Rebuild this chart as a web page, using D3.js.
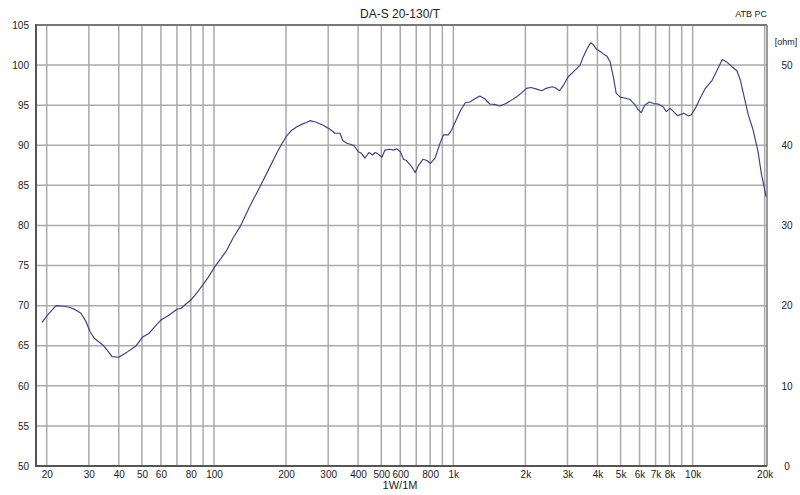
<!DOCTYPE html>
<html><head><meta charset="utf-8">
<script src="https://cdn.jsdelivr.net/npm/d3@7"></script>
<style>body{margin:0;background:#fff}svg{display:block}text{font-family:"Liberation Sans",Arial,sans-serif;fill:#222}</style>
</head><body>
<script>
const title = "DA-S 20-130/T";
const freqs = [19.1,20.4,21.9,23.2,24.9,26.3,27.8,29.2,30.3,31.6,34.3,36.1,37.5,40,43.3,47.2,50.4,53.6,56.7,60,65,70,72.9,76.3,80,84.8,89.8,94.4,101,107,113,120,128.6,141,155.6,168.6,182.8,190.5,200,210,222,236,242,252,266,286,305,320,336,345,359,383,401,413,427,444,460,471,485,503,518,543,561,581,601,619,637,671,693,716,747,776,801,839,880,909,953,983,1030,1070,1122,1173,1231,1290,1353,1420,1488,1560,1660,1743,1840,1923,2020,2112,2230,2343,2441,2590,2655,2780,2899,3020,3135,3260,3388,3470,3617,3750,3857,3970,4117,4230,4389,4520,4665,4790,4980,5199,5480,5760,5899,6090,6312,6590,6868,7170,7521,7760,8059,8378,8660,9170,9620,9868,10260,10750,11300,12060,12660,13300,13870,14600,15300,15800,16280,17080,17900,18760,19360,20280];
const spl = [67.9,69.0,70.0,69.95,69.8,69.5,69.05,68.0,66.8,65.94,65.1,64.3,63.64,63.56,64.2,64.97,66.1,66.56,67.4,68.2,68.84,69.55,69.67,70.2,70.7,71.6,72.6,73.5,74.9,75.9,76.9,78.4,79.85,82.35,84.84,86.9,89.0,90.0,91.07,91.8,92.3,92.7,92.8,93.07,92.9,92.5,92.0,91.5,91.5,90.6,90.25,90.0,89.2,89.0,88.4,89.1,88.8,89.1,88.9,88.5,89.4,89.5,89.4,89.55,89.2,88.25,88.1,87.3,86.6,87.5,88.25,88.1,87.75,88.4,90.25,91.3,91.3,91.9,93.2,94.3,95.3,95.4,95.8,96.15,95.8,95.15,95.1,94.9,95.2,95.6,96.06,96.5,97.1,97.2,97.0,96.8,97.1,97.3,97.2,96.8,97.6,98.55,99.0,99.5,100.0,100.85,102.0,102.8,102.5,101.97,101.7,101.4,101.1,100.4,98.5,96.5,96.0,95.9,95.7,95.0,94.5,94.07,95.0,95.4,95.2,95.15,94.8,94.2,94.6,94.1,93.7,94.0,93.65,93.8,94.6,95.86,97.1,98.1,99.4,100.7,100.4,99.8,99.3,98.2,96.5,93.8,91.9,89.2,86.5,83.6];
const gridFreqs = [20,30,40,50,60,70,80,90,100,200,300,400,500,600,700,800,900,1000,2000,3000,4000,5000,6000,7000,8000,9000,10000,20000];
const xTickLabels = [[20,"20"],[30,"30"],[40,"40"],[50,"50"],[60,"60"],[80,"80"],[100,"100"],[200,"200"],[300,"300"],[400,"400"],[500,"500"],[600,"600"],[800,"800"],[1000,"1k"],[2000,"2k"],[3000,"3k"],[4000,"4k"],[5000,"5k"],[6000,"6k"],[7000,"7k"],[8000,"8k"],[10000,"10k"],[20000,"20k"]];
const dbTicks = [50,55,60,65,70,75,80,85,90,95,100,105];
const ohmTicks = [0,10,20,30,40,50];

const W=800,H=495, L=36, R=767, T=25, B=466;
const svg = d3.select("body").append("svg").attr("width",W).attr("height",H);
const x = d3.scaleLog().domain([18.04,20450]).range([L,R]);
const y = d3.scaleLinear().domain([50,105]).range([B,T]);
const yo = d3.scaleLinear().domain([0,55]).range([B,T]);

const g = svg.append("g");
g.selectAll(".vg").data(gridFreqs).join("line")
 .attr("x1",d=>x(d)).attr("x2",d=>x(d)).attr("y1",T).attr("y2",B)
 .attr("stroke","#aaaaaa").attr("stroke-width",1.5);
g.selectAll(".hg").data(dbTicks.filter(d=>d>50&&d<105)).join("line")
 .attr("x1",L).attr("x2",R).attr("y1",d=>y(d)).attr("y2",d=>y(d))
 .attr("stroke","#aaaaaa").attr("stroke-width",1.5);
g.append("line").attr("x1",L).attr("x2",R).attr("y1",T).attr("y2",T).attr("stroke","#777").attr("stroke-width",2);
g.append("line").attr("x1",R).attr("x2",R).attr("y1",T).attr("y2",B).attr("stroke","#777").attr("stroke-width",1.5);
g.append("line").attr("x1",L).attr("x2",L).attr("y1",T-1).attr("y2",B+1).attr("stroke","#555").attr("stroke-width",2);
g.append("line").attr("x1",L).attr("x2",R).attr("y1",B).attr("y2",B).attr("stroke","#555").attr("stroke-width",2);

const yAxis = d3.axisLeft(y).tickValues(dbTicks).tickSize(0).tickPadding(0);
const ya = svg.append("g").attr("transform",`translate(${L-7},0)`).call(yAxis);
ya.select(".domain").remove();
ya.selectAll("text").attr("font-size",10).attr("fill","#222").attr("font-family","Liberation Sans, Arial, sans-serif");

const oAxis = d3.axisRight(yo).tickValues(ohmTicks).tickSize(0).tickPadding(0);
const oa = svg.append("g").attr("transform",`translate(${R+14},0)`).call(oAxis);
oa.select(".domain").remove();
oa.selectAll("text").attr("font-size",10).attr("fill","#222").attr("font-family","Liberation Sans, Arial, sans-serif").attr("text-anchor","middle").attr("dx",6);

const xAxis = d3.axisBottom(x).tickValues(xTickLabels.map(d=>d[0])).tickFormat((d,i)=>xTickLabels[i][1]).tickSize(0).tickPadding(0);
const xa = svg.append("g").attr("transform",`translate(0,${B+5})`).call(xAxis);
xa.select(".domain").remove();
xa.selectAll("text").attr("font-size",10).attr("fill","#222").attr("font-family","Liberation Sans, Arial, sans-serif");

const pts = freqs.map((f,i)=>[f,spl[i]]);
svg.append("path").datum(pts)
 .attr("fill","none").attr("stroke","#3d3d88").attr("stroke-width",1.15).attr("stroke-linejoin","round")
 .attr("d",d3.line().x(d=>x(d[0])).y(d=>y(d[1])));

svg.append("text").attr("x",400).attr("y",18).attr("text-anchor","middle").attr("font-size",12).text(title);
svg.append("text").attr("x",767).attr("y",17).attr("text-anchor","end").attr("font-size",9).text("ATB PC");
svg.append("text").attr("x",786).attr("y",45).attr("text-anchor","middle").attr("font-size",9).text("[ohm]");
svg.append("text").attr("x",400).attr("y",489).attr("text-anchor","middle").attr("font-size",11).text("1W/1M");
</script>
</body></html>
